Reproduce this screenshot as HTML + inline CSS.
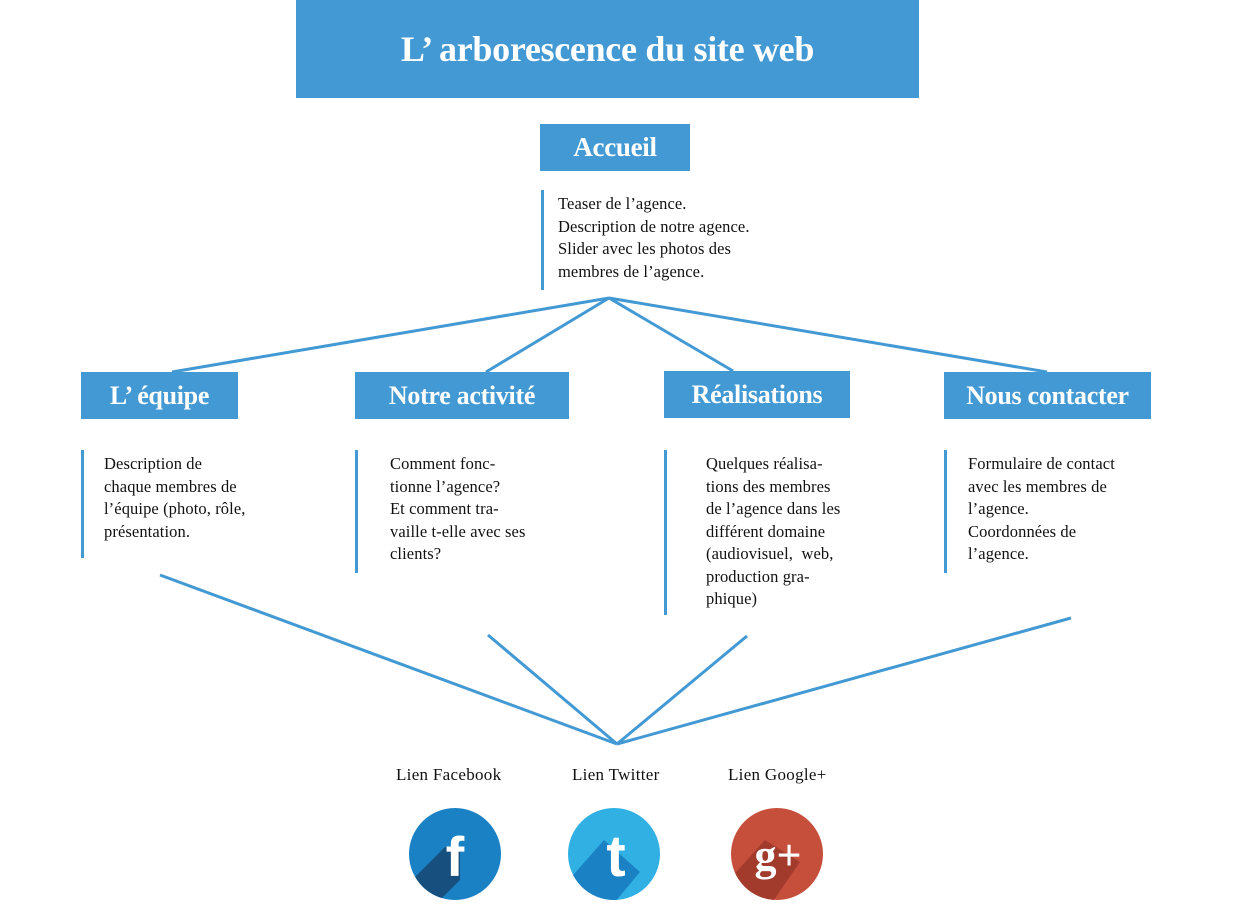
<!DOCTYPE html>
<html><head><meta charset="utf-8"><style>
body{margin:0;width:1234px;height:924px;background:#fff;position:relative;overflow:hidden;font-family:"Liberation Serif",serif;}
.b{position:absolute;background:#4299d4;color:#fff;font-weight:bold;text-align:center;letter-spacing:-0.3px;white-space:nowrap;}
.bar{position:absolute;width:3px;background:#4299d4;}
.t{position:absolute;font-size:16.5px;line-height:22.5px;color:#111;letter-spacing:0.1px;white-space:nowrap;}
.l{position:absolute;font-size:17px;color:#111;letter-spacing:0.3px;}
svg{position:absolute;left:0;top:0;}
</style></head><body>
<div class="b" style="left:296px;top:0;width:623px;height:98px;line-height:98px;font-size:36px;">L’ arborescence du site web</div>
<div class="b" style="left:540px;top:124px;width:150px;height:47px;line-height:47px;font-size:27px;">Accueil</div>
<div class="bar" style="left:541px;top:190px;height:100px"></div>
<div class="t" style="left:558px;top:193px">Teaser de l’agence.<br>Description de notre agence.<br>Slider avec les photos des<br>membres de l’agence.</div>

<svg width="1234" height="924">
<g stroke="#4299d4" stroke-width="3" fill="none">
<line x1="609" y1="298" x2="172" y2="372"/>
<line x1="609" y1="298" x2="486" y2="372"/>
<line x1="609" y1="298" x2="733" y2="371"/>
<line x1="609" y1="298" x2="1047" y2="372"/>
<line x1="617" y1="744" x2="160" y2="575"/>
<line x1="617" y1="744" x2="488" y2="635"/>
<line x1="617" y1="744" x2="747" y2="636"/>
<line x1="617" y1="744" x2="1071" y2="618"/>
</g>
<defs>
<clipPath id="c1"><circle cx="455" cy="854" r="46"/></clipPath>
<clipPath id="c2"><circle cx="614" cy="854" r="46"/></clipPath>
<clipPath id="c3"><circle cx="777" cy="854" r="46"/></clipPath>
</defs>
<circle cx="455" cy="854" r="46" fill="#1a82c4"/>
<polygon clip-path="url(#c1)" points="445,847 460,847 460,880 430,910 400,910 400,892" fill="#174f7f"/>
<text x="455" y="876" font-family="Liberation Sans,sans-serif" font-weight="bold" font-size="56" fill="#fff" text-anchor="middle">f</text>
<circle cx="614" cy="854" r="46" fill="#31b1e3"/>
<polygon clip-path="url(#c2)" points="604,840 640,872 600,920 560,920 560,890" fill="#1a82c4"/>
<text x="616" y="876" font-family="Liberation Sans,sans-serif" font-weight="bold" font-size="58" fill="#fff" text-anchor="middle">t</text>
<circle cx="777" cy="854" r="46" fill="#c64f3b"/>
<polygon clip-path="url(#c3)" points="765,840 800,862 760,920 720,920 720,890" fill="#a33b2d"/>
<text x="778" y="870" font-family="Liberation Serif,serif" font-weight="bold" font-size="44" fill="#fff" text-anchor="middle">g+</text>
</svg>

<div class="b" style="left:81px;top:372px;width:157px;height:47px;line-height:48px;font-size:26px;">L’ équipe</div>
<div class="b" style="left:355px;top:372px;width:214px;height:47px;line-height:48px;font-size:26px;">Notre activité</div>
<div class="b" style="left:664px;top:371px;width:186px;height:47px;line-height:48px;font-size:26px;">Réalisations</div>
<div class="b" style="left:944px;top:372px;width:207px;height:47px;line-height:48px;font-size:26px;">Nous contacter</div>

<div class="bar" style="left:81px;top:450px;height:108px"></div>
<div class="t" style="left:104px;top:453px">Description de<br>chaque membres de<br>l’équipe (photo, rôle,<br>présentation.</div>
<div class="bar" style="left:355px;top:450px;height:123px"></div>
<div class="t" style="left:390px;top:453px">Comment fonc-<br>tionne l’agence?<br>Et comment tra-<br>vaille t-elle avec ses<br>clients?</div>
<div class="bar" style="left:664px;top:450px;height:165px"></div>
<div class="t" style="left:706px;top:453px">Quelques réalisa-<br>tions des membres<br>de l’agence dans les<br>différent domaine<br>(audiovisuel,&nbsp; web,<br>production gra-<br>phique)</div>
<div class="bar" style="left:944px;top:450px;height:123px"></div>
<div class="t" style="left:968px;top:453px">Formulaire de contact<br>avec les membres de<br>l’agence.<br>Coordonnées de<br>l’agence.</div>

<div class="l" style="left:396px;top:765px">Lien Facebook</div>
<div class="l" style="left:572px;top:765px">Lien Twitter</div>
<div class="l" style="left:728px;top:765px">Lien Google+</div>
</body></html>
